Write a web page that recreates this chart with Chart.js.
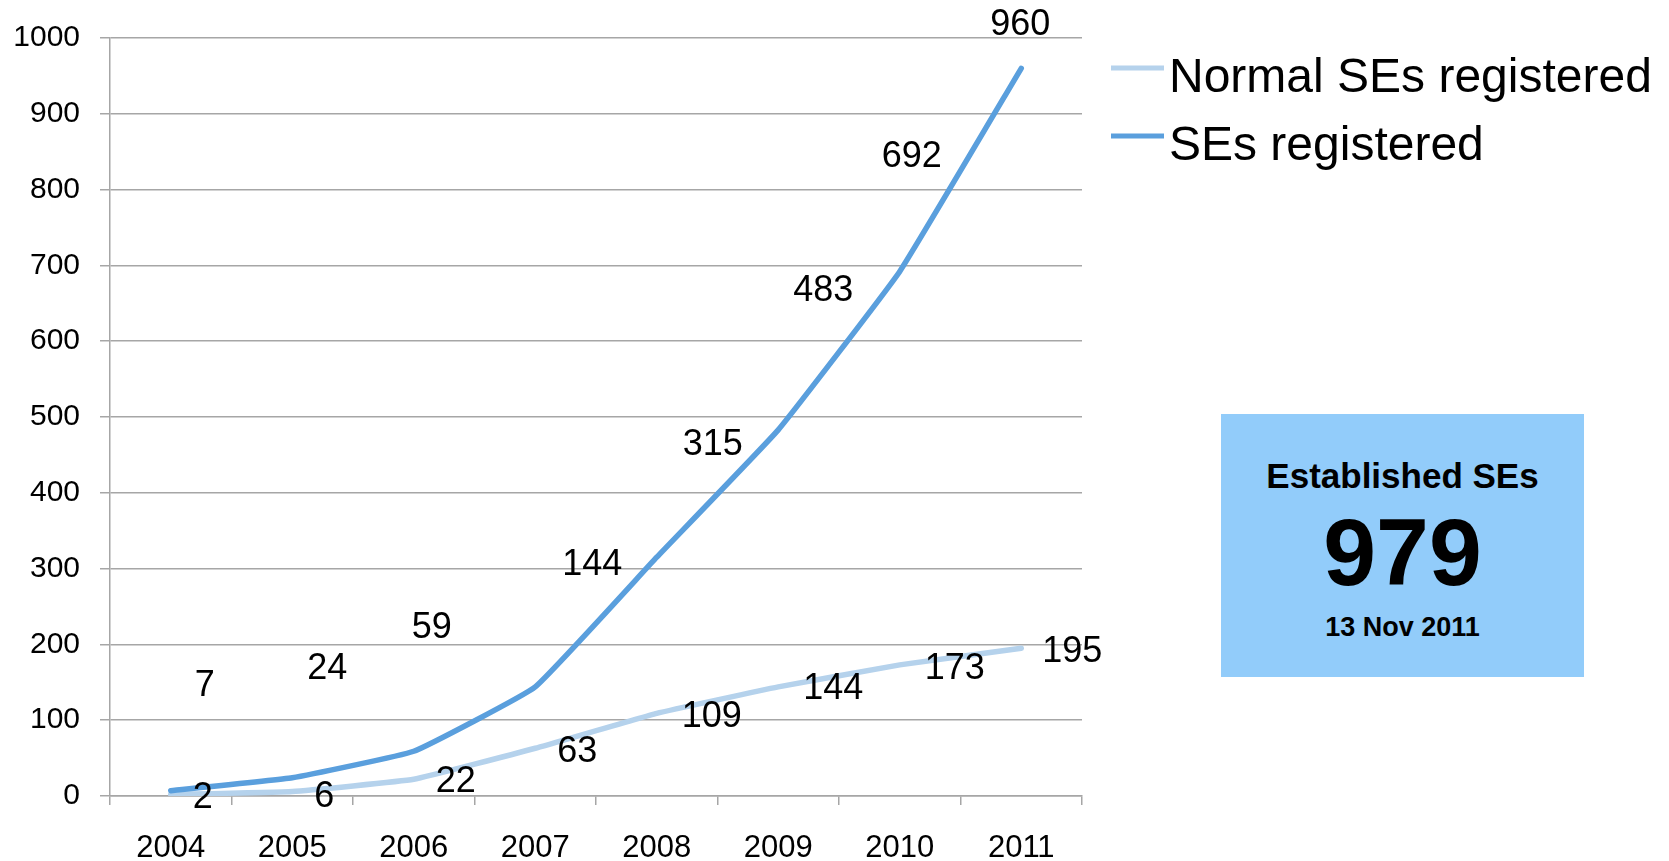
<!DOCTYPE html>
<html>
<head>
<meta charset="utf-8">
<script src="https://cdn.jsdelivr.net/npm/chart.js@4.4.0/dist/chart.umd.min.js"></script>
<style>
  body { margin: 0; background: #fff; }
  #wrap { position: relative; width: 1669px; height: 861px; font-family: "Liberation Sans", Arial, sans-serif; }
  #chart { position: absolute; left: 0; top: 0; }
  .box { position: absolute; left: 1221px; top: 414px; width: 363px; height: 263px; background: #92ccfa; }
  .box div { position: absolute; left: 0; width: 100%; text-align: center; font-weight: bold; color: #000; }
  .box .t1 { top: 44px; font-size: 35px; line-height: 35px; }
  .box .t2 { top: 91px; font-size: 95px; line-height: 95px; }
  .box .t3 { top: 200px; font-size: 27px; line-height: 27px; }
</style>
</head>
<body>
<div id="wrap">
  <canvas id="chart" width="1669" height="861"></canvas>
  <div class="box">
    <div class="t1">Established SEs</div>
    <div class="t2">979</div>
    <div class="t3">13 Nov 2011</div>
  </div>
</div>
<script>
const years = ['2004', '2005', '2006', '2007', '2008', '2009', '2010', '2011']
const normalSEs = [2, 6, 22, 63, 109, 144, 173, 195]
const registeredSEs = [7, 24, 59, 144, 315, 483, 692, 960]
const yMin = 0
const yMax = 1000
const yStep = 100

const gridGrey = '#a6a6a6'
const font = '"Liberation Sans", Arial, sans-serif'

// where the value labels sit, relative to each point (dx, dy in px)
const labelShift = [
  [[32, 4], [32, 6], [42, 3], [42, 4], [55, 4], [55, 2], [55, 4], [51, 4]],
  [[34, -105], [35, -109], [18, -123], [57, -122], [56, -112], [45, -139], [12, -114], [-1, -43]]
]

const valueLabels = {
  id: 'valueLabels',
  afterDatasetsDraw(chart) {
    const ctx = chart.ctx
    ctx.save()
    ctx.font = '36px ' + font
    ctx.fillStyle = '#000'
    ctx.textAlign = 'center'
    ctx.textBaseline = 'middle'
    chart.data.datasets.forEach((ds, i) => {
      chart.getDatasetMeta(i).data.forEach((pt, j) => {
        const s = labelShift[i][j]
        ctx.fillText(ds.data[j], pt.x + s[0], pt.y + s[1])
      })
    })
    ctx.restore()
  }
}

const sideLegend = {
  id: 'sideLegend',
  afterDraw(chart) {
    const ctx = chart.ctx
    const x0 = chart.chartArea.right + 29
    ctx.save()
    chart.data.datasets.forEach((ds, i) => {
      const y = 68 + i * 68
      ctx.strokeStyle = ds.borderColor
      ctx.lineWidth = 5
      ctx.beginPath()
      ctx.moveTo(x0, y)
      ctx.lineTo(x0 + 53, y)
      ctx.stroke()
      ctx.font = '48px ' + font
      ctx.fillStyle = '#000'
      ctx.textBaseline = 'alphabetic'
      ctx.fillText(ds.label, x0 + 58, y + 24)
    })
    ctx.restore()
  }
}

let chart = new Chart(document.getElementById('chart'), {
  type: 'line',
  data: {
    labels: years,
    datasets: [
      {
        label: 'Normal SEs registered',
        data: normalSEs,
        borderColor: '#b5d2ec',
        borderWidth: 5.5,
        pointRadius: 0,
        tension: 0.1,
        borderCapStyle: 'round',
        order: 1
      },
      {
        label: 'SEs registered',
        data: registeredSEs,
        borderColor: '#5a9fdd',
        borderWidth: 5.5,
        pointRadius: 0,
        tension: 0.1,
        borderCapStyle: 'round',
        order: 0
      }
    ]
  },
  options: {
    responsive: false,
    animation: false,
    layout: { padding: { top: 35, right: 587, bottom: 0, left: 0 } },
    plugins: {
      legend: { display: false },
      tooltip: { enabled: false }
    },
    scales: {
      x: {
        offset: true,
        afterFit: s => { s.height = 65 },
        grid: { offset: true, drawOnChartArea: false, drawTicks: true, tickLength: 9, color: gridGrey, lineWidth: 1.5 },
        border: { display: true, color: gridGrey, width: 1.5 },
        ticks: { color: '#000', padding: 25, font: { size: 31, family: font } }
      },
      y: {
        min: yMin,
        max: yMax,
        afterFit: s => { s.width = 110 },
        grid: { color: gridGrey, lineWidth: 1.5, tickLength: 10 },
        border: { display: true, color: gridGrey, width: 1.5 },
        ticks: { stepSize: yStep, color: '#000', padding: 20, font: { size: 30, family: font }, callback: v => String(v) }
      }
    }
  },
  plugins: [valueLabels, sideLegend]
})
</script>
</body>
</html>
